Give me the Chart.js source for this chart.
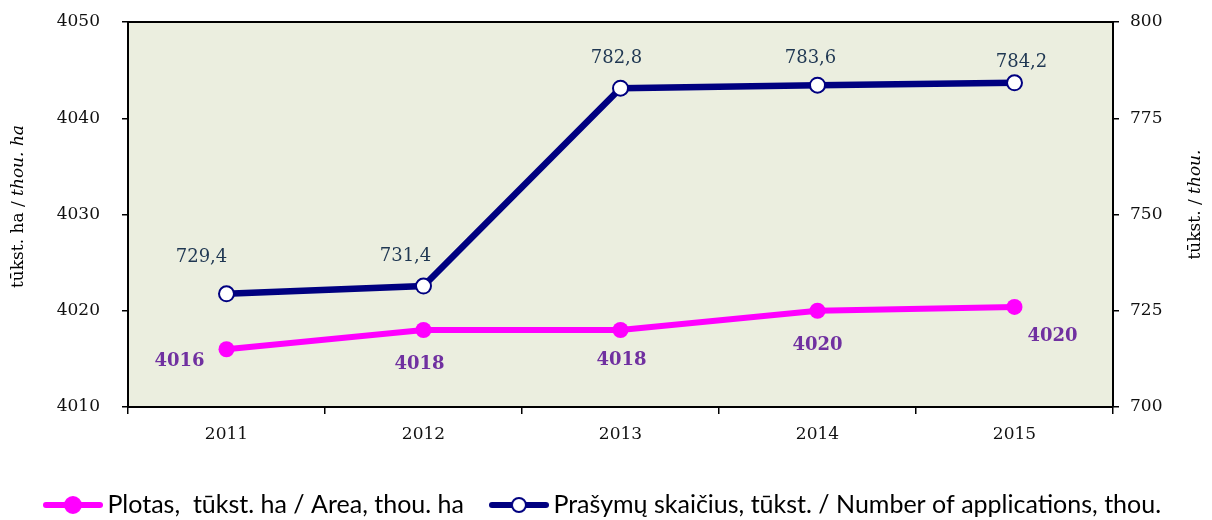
<!DOCTYPE html>
<html lang="lt">
<head>
<meta charset="UTF-8">
<title>Plotas ir prašymų skaičius</title>
<script src="https://cdn.jsdelivr.net/npm/chart.js"></script>
<style>
    html, body { margin: 0; padding: 0; background: #ffffff; }
    .chart-box { width: 1212px; height: 520px; position: relative; }
</style>
</head>
<body>
<div class="chart-box"><canvas id="areaChart"></canvas></div>
<script>
// data
const years = ['2011', '2012', '2013', '2014', '2015'];
const areaValues = [4016, 4018, 4018, 4020, 4020.4];
const applicationValues = [729.4, 731.4, 782.8, 783.6, 784.2];
const areaTicks = [4010, 4020, 4030, 4040, 4050];
const applicationTicks = [700, 725, 750, 775, 800];

const serif = "'DejaVu Serif', 'Liberation Serif', serif";

// little line+marker pictures for the legend
function legendIcon(lineColor, dotFill, dotRadius) {
    const c = document.createElement('canvas');
    c.width = 60; c.height = 20;
    const g = c.getContext('2d');
    g.strokeStyle = lineColor;
    g.lineWidth = 6;
    g.lineCap = 'round';
    g.beginPath(); g.moveTo(3, 10); g.lineTo(57, 10); g.stroke();
    g.beginPath(); g.arc(30, 10, dotRadius, 0, Math.PI * 2);
    g.fillStyle = dotFill; g.fill();
    g.lineWidth = 2; g.stroke();
    return c;
}
const legendIcons = [legendIcon('#ff00ff', '#ff00ff', 8), legendIcon('#000080', '#ffffff', 7)];

// plot background + top frame line
const plotFrame = {
    id: 'plotFrame',
    beforeDraw(chart) {
        const {ctx, chartArea: a} = chart;
        ctx.save();
        ctx.fillStyle = '#ebeedf';
        ctx.fillRect(a.left, a.top, a.right - a.left, a.bottom - a.top);
        ctx.restore();
    },
    beforeDatasetsDraw(chart) {
        const {ctx, chartArea: a} = chart;
        ctx.save();
        ctx.strokeStyle = '#000';
        ctx.lineWidth = 2;
        ctx.beginPath(); ctx.moveTo(a.left - 1, a.top); ctx.lineTo(a.right + 1, a.top); ctx.stroke();
        ctx.restore();
    }
};

// value labels next to the points
const pointLabels = {
    id: 'pointLabels',
    afterDatasetsDraw(chart) {
        const ctx = chart.ctx;
        chart.data.datasets.forEach((ds, di) => {
            const meta = chart.getDatasetMeta(di);
            ctx.save();
            ctx.font = ds.labelFont;
            ctx.fillStyle = ds.labelColor;
            ctx.textAlign = 'center';
            ctx.textBaseline = 'middle';
            meta.data.forEach((pt, i) => {
                const off = ds.labelOffsets[i];
                ctx.fillText(ds.labelFormat(ds.data[i]), pt.x + off[0], pt.y + off[1]);
            });
            ctx.restore();
        });
    }
};

// rotated axis titles with an italic english part
function drawTitle(ctx, parts, x, y) {
    ctx.save();
    ctx.translate(x, y);
    ctx.rotate(-Math.PI / 2);
    ctx.textBaseline = 'middle';
    ctx.fillStyle = '#000';
    const fonts = parts.map(p => (p.italic ? 'italic ' : '') + '17px ' + serif);
    let total = 0;
    const widths = parts.map((p, i) => { ctx.font = fonts[i]; const w = ctx.measureText(p.text).width; total += w; return w; });
    let cx = -total / 2;
    parts.forEach((p, i) => {
        ctx.font = fonts[i];
        ctx.fillText(p.text, cx, 0);
        cx += widths[i];
    });
    ctx.restore();
}
const axisTitles = {
    id: 'axisTitles',
    afterDraw(chart) {
        const a = chart.chartArea;
        const midY = (a.top + a.bottom) / 2;
        drawTitle(chart.ctx, [{text: 'tūkst. ha / '}, {text: 'thou. ha', italic: true}], chart.scales.yArea.left + 19, midY - 8);
        drawTitle(chart.ctx, [{text: 'tūkst. / '}, {text: 'thou.', italic: true}], chart.scales.yApps.right - 16, midY - 10);
    }
};

const tickFont = {family: serif, size: 17};
const plainNumber = v => String(v);

new Chart(document.getElementById('areaChart'), {
    type: 'line',
    data: {
        labels: years,
        datasets: [{
            label: 'Plotas,  tūkst. ha / Area, thou. ha',
            data: areaValues,
            yAxisID: 'yArea',
            borderColor: '#ff00ff',
            borderWidth: 6,
            pointRadius: 8,
            pointBackgroundColor: '#ff00ff',
            pointBorderColor: '#ff00ff',
            pointBorderWidth: 0,
            tension: 0,
            labelFont: 'bold 18px ' + serif,
            labelColor: '#7030a0',
            labelFormat: v => String(Math.round(v)),
            labelOffsets: [[-47, 12], [-4, 34], [1, 30], [0, 35], [38, 29]]
        }, {
            label: 'Prašymų skaičius, tūkst. / Number of applications, thou.',
            data: applicationValues,
            yAxisID: 'yApps',
            borderColor: '#000080',
            borderWidth: 6.5,
            pointRadius: 7.5,
            pointBackgroundColor: '#ffffff',
            pointBorderColor: '#000080',
            pointBorderWidth: 2,
            tension: 0,
            labelFont: '18px ' + serif,
            labelColor: '#1f3752',
            labelFormat: v => v.toFixed(1).replace('.', ','),
            labelOffsets: [[-25, -36], [-18, -30], [-4, -30], [-7, -27], [7, -21]]
        }]
    },
    options: {
        responsive: true,
        maintainAspectRatio: false,
        animation: false,
        layout: { padding: { top: 22, bottom: -7.5, left: 0, right: 0 } },
        plugins: {
            tooltip: { enabled: false },
            legend: {
                position: 'bottom',
                labels: {
                    usePointStyle: true,
                    pointStyleWidth: 44,
                    padding: 33,
                    color: '#000',
                    font: { family: "Lato, 'Open Sans', sans-serif", size: 25 },
                    generateLabels: chart => chart.data.datasets.map((ds, i) => ({
                        text: ds.label,
                        pointStyle: legendIcons[i],
                        datasetIndex: i,
                        hidden: false,
                        lineWidth: 0,
                        fontColor: '#000'
                    }))
                }
            }
        },
        scales: {
            x: {
                offset: true,
                grid: { offset: true, drawOnChartArea: false, color: '#000', tickLength: 7, lineWidth: 1.5 },
                border: { color: '#000', width: 2 },
                ticks: { color: '#111', font: tickFont, padding: 10 },
                afterFit(s) { s.height = 52.5; }
            },
            yArea: {
                position: 'left',
                min: areaTicks[0],
                max: areaTicks[areaTicks.length - 1],
                ticks: { stepSize: areaTicks[1] - areaTicks[0], color: '#111', font: tickFont, padding: 22, callback: plainNumber },
                grid: { drawOnChartArea: false, color: '#000', tickLength: 6, lineWidth: 1.5 },
                border: { color: '#000', width: 2 },
                afterFit(s) { s.width = 128; s.paddingTop = 10; s.paddingBottom = 10; }
            },
            yApps: {
                position: 'right',
                min: applicationTicks[0],
                max: applicationTicks[applicationTicks.length - 1],
                ticks: { stepSize: applicationTicks[1] - applicationTicks[0], color: '#111', font: tickFont, padding: 11, callback: plainNumber },
                grid: { drawOnChartArea: false, color: '#000', tickLength: 6, lineWidth: 1.5 },
                border: { color: '#000', width: 2 },
                afterFit(s) { s.width = 99; s.paddingTop = 10; s.paddingBottom = 10; }
            }
        }
    },
    plugins: [plotFrame, pointLabels, axisTitles]
});
</script>
</body>
</html>
